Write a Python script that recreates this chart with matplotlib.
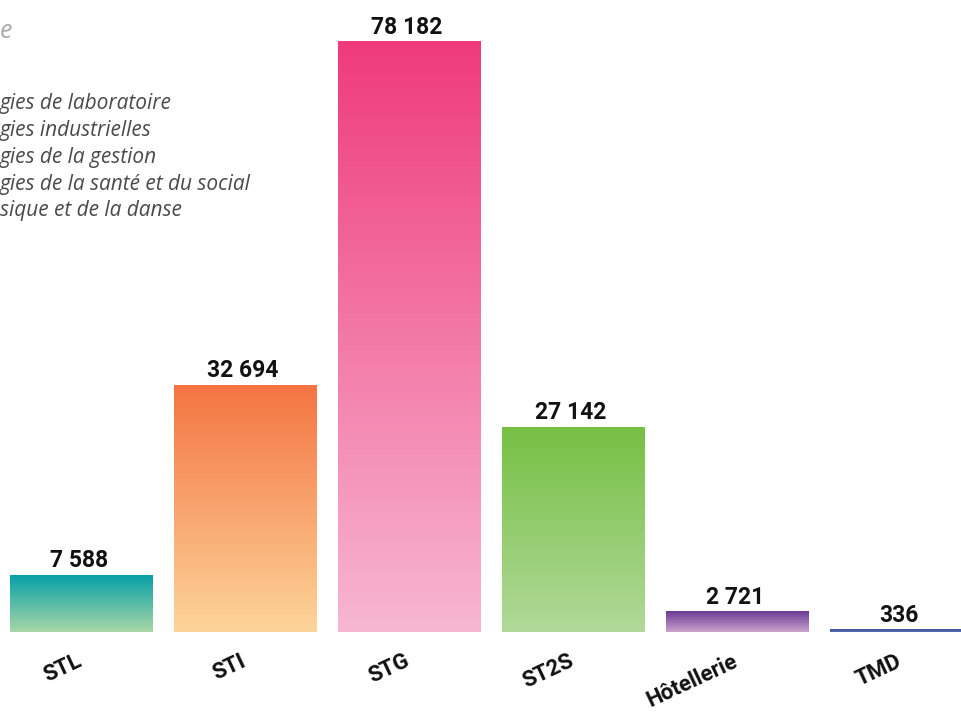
import numpy as np
import matplotlib
matplotlib.use("Agg")
import matplotlib.pyplot as plt
from matplotlib.colors import LinearSegmentedColormap

# données
categories = ["STL", "STI", "STG", "ST2S", "Hôtellerie", "TMD"]
values = [7588, 32694, 78182, 27142, 2721, 336]
top_colors = ["#049fa8", "#f47442", "#ef3b7a", "#76c043", "#6a3a95", "#3d52a1"]
bottom_colors = ["#a8d8a6", "#fdd59a", "#f7b7d3", "#b1d999", "#c9a3cc", "#5a6cb0"]
# texte visible de la légende (coupé à gauche dans l'original)
legend_lines = [
    "gies de laboratoire",
    "gies industrielles",
    "gies de la gestion",
    "gies de la santé et du social",
    "sique et de la danse",
]
title = "e"

W, H = 961, 716
fig = plt.figure(figsize=(W / 100, H / 100), dpi=100)
ax = fig.add_axes([0, 0, 1, 1])
ax.axis("off")

x = np.arange(len(categories))
bars = ax.bar(x, values, width=0.87, color="none", edgecolor="none")

grad = np.linspace(0, 1, 256).reshape(-1, 1)
for b, c_top, c_bot in zip(bars, top_colors, bottom_colors):
    cmap = LinearSegmentedColormap.from_list("g", [c_bot, c_top])
    x0, w, h = b.get_x(), b.get_width(), b.get_height()
    im = ax.imshow(grad, cmap=cmap, origin="lower", aspect="auto",
                   extent=(x0, x0 + w, 0, h), interpolation="bilinear")
    im.set_clip_path(b)

# échelle : centre de la 1re barre à 81 px, pas de 164 px, base à 632 px
px_per_unit = 591 / 78182
ax.set_xlim(-81 / 164, (W - 81) / 164)
ax.set_ylim(-(H - 632) / px_per_unit, 632 / px_per_unit)

num_font = ["Roboto", "DejaVu Sans"]
for xi, v in zip(x, values):
    ax.annotate(f"{v:,}".replace(",", "\u202f"), xy=(xi, v), xytext=(-1.5, 1.7),
                textcoords="offset points", ha="center", va="bottom",
                fontsize=16.5, fontweight="bold", family=num_font, color="#111111")

for xi, cat in zip(x, categories):
    ax.annotate(cat, xy=(xi, 0), xytext=(1.5, -24), textcoords="offset points",
                ha="right", va="baseline", rotation=25, rotation_mode="anchor",
                fontsize=16, fontweight="bold", family="Roboto", color="#111111")

for i, txt in enumerate(legend_lines):
    yp = 104 + i * 26.75
    fig.text(0, 1 - yp / H, txt, ha="left", va="center", fontsize=15,
             style="italic", family="Open Sans", color="#4a4a4a")

fig.text(0, 1 - 31 / H, title, ha="left", va="center", fontsize=18,
         style="italic", family="Open Sans", color="#aaaaaa")

fig.savefig("out.png", dpi=100)
